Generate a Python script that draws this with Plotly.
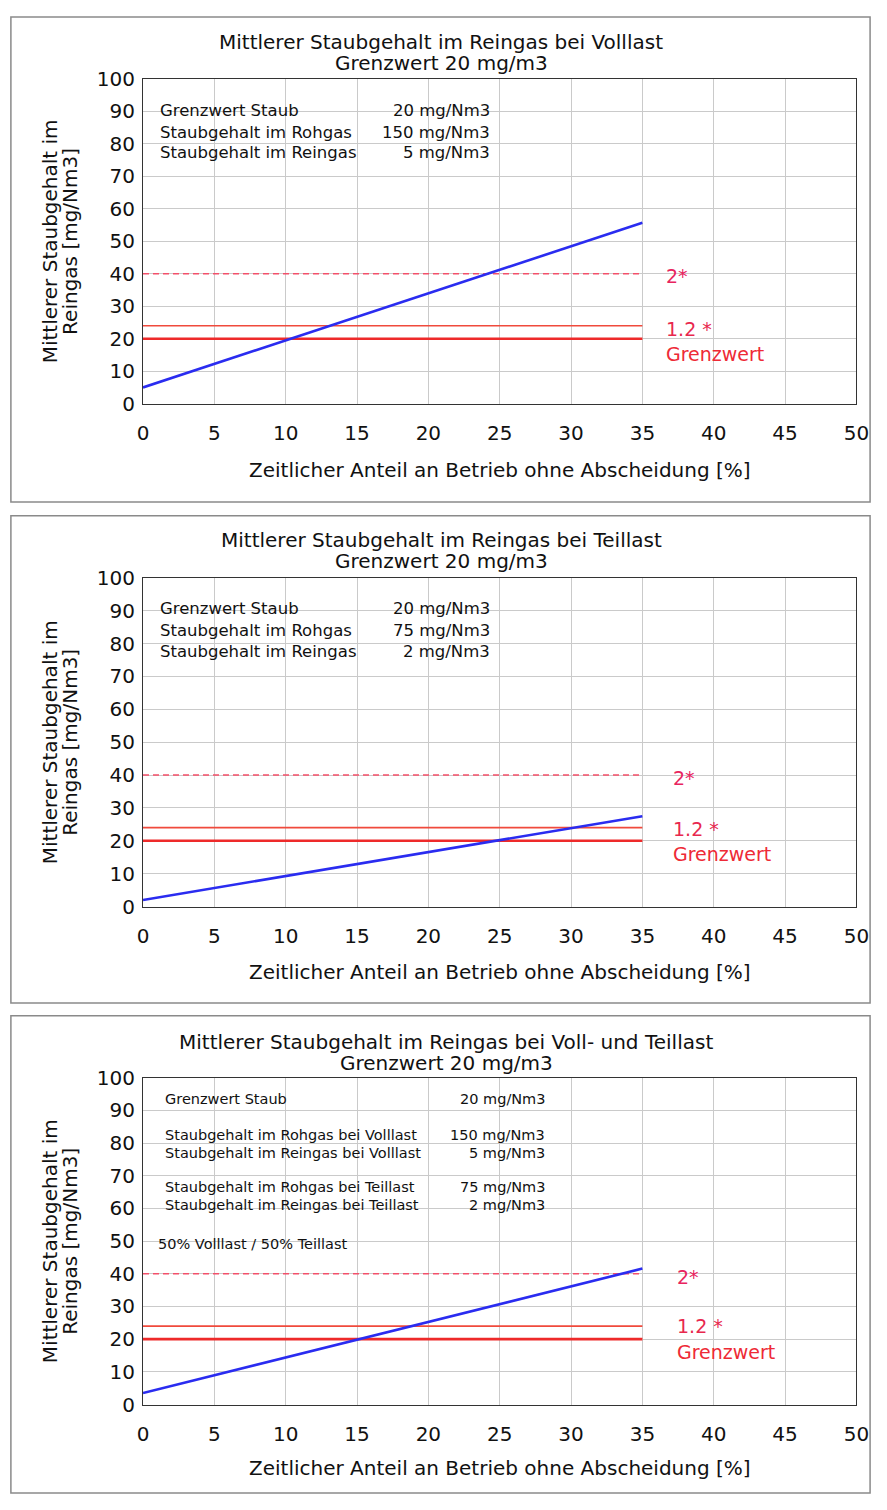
import plotly.graph_objects as go

W, H = 887, 1510
FONT = "DejaVu Sans, Liberation Sans, Arial, sans-serif"

# Share of operating time without dust separation [%]
share = [0, 35]

# Mean clean-gas dust content [mg/Nm3] at 0 % and 35 % bypass time
clean_full = [5, 55.7]      # Volllast
clean_part = [2, 27.5]      # Teillast
clean_mix = [3.5, 41.6]     # 50 % Volllast / 50 % Teillast

limit = 20                  # Grenzwert [mg/Nm3]
limit_factors = [1.2, 2]    # 1.2 * and 2* the limit

x_ticks = [0, 5, 10, 15, 20, 25, 30, 35, 40, 45, 50]
y_ticks = [0, 10, 20, 30, 40, 50, 60, 70, 80, 90, 100]

titles = [
    ("Mittlerer Staubgehalt im Reingas bei Volllast", "Grenzwert 20 mg/m3"),
    ("Mittlerer Staubgehalt im Reingas bei Teillast", "Grenzwert 20 mg/m3"),
    ("Mittlerer Staubgehalt im Reingas bei Voll- und Teillast", "Grenzwert 20 mg/m3"),
]
y_title = ("Mittlerer Staubgehalt im", "Reingas [mg/Nm3]")
x_title = "Zeitlicher Anteil an Betrieb ohne Abscheidung [%]"

info_blocks = [
    [("Grenzwert Staub", "20 mg/Nm3"),
     ("Staubgehalt im Rohgas", "150 mg/Nm3"),
     ("Staubgehalt im Reingas", "5 mg/Nm3")],
    [("Grenzwert Staub", "20 mg/Nm3"),
     ("Staubgehalt im Rohgas", "75 mg/Nm3"),
     ("Staubgehalt im Reingas", "2 mg/Nm3")],
    [("Grenzwert Staub", "20 mg/Nm3"),
     ("Staubgehalt im Rohgas bei Volllast", "150 mg/Nm3"),
     ("Staubgehalt im Reingas bei Volllast", "5 mg/Nm3"),
     ("Staubgehalt im Rohgas bei Teillast", "75 mg/Nm3"),
     ("Staubgehalt im Reingas bei Teillast", "2 mg/Nm3")],
]
mix_note = "50% Volllast / 50% Teillast"

series = [clean_full, clean_part, clean_mix]


def py(pix):
    """pixel row -> paper y"""
    return 1 - pix / H


def px(pix):
    return pix / W


# panel geometry in pixels
panels = [
    dict(box=(5, 498), top=68, bottom=398, title=(30, 52), xt=465,
         info_x=(155, 497), info_y=[100, 122, 143], info_size=16.5,
         white=(87, 157, 510), lab_x=36.5, lab_y=[39.4, 23.0, 15.2], title_x=445),
    dict(box=(512, 1007), top=575, bottom=909, title=(537, 558), xt=975,
         info_x=(155, 497), info_y=[606, 628, 650], info_size=16.5,
         white=(593, 662, 510), lab_x=37.0, lab_y=[39.2, 23.7, 15.9], title_x=445),
    dict(box=(1020, 1505), top=1083, bottom=1415, title=(1047, 1068), xt=1480,
         info_x=(160, 553), info_y=[1105, 1141, 1159, 1194, 1212], info_size=14.5,
         white=(1090, 1266, 580), lab_x=37.3, lab_y=[39.0, 24.0, 16.0], title_x=450),
]

x_left, x_right = 140, 869

fig = go.Figure()
shapes = []
annotations = []


def note(text, x, y, size, color="#111", xanchor="center", angle=0, xref="paper", yref="paper"):
    annotations.append(dict(text=text, xref=xref, yref=yref, x=x, y=y, textangle=angle,
                            xanchor=xanchor, yanchor="middle", showarrow=False,
                            font=dict(family=FONT, size=size, color=color)))


for i, (p, ys) in enumerate(zip(panels, series)):
    n = "" if i == 0 else str(i + 1)
    xa, ya = "x" + n, "y" + n

    # limit lines
    fig.add_trace(go.Scatter(x=share, y=[limit * limit_factors[1]] * 2, xaxis=xa, yaxis=ya,
                             mode="lines", line=dict(color="#f4506a", width=1.5, dash="6px,4px"),
                             showlegend=False, hoverinfo="skip"))
    fig.add_trace(go.Scatter(x=share, y=[limit * limit_factors[0]] * 2, xaxis=xa, yaxis=ya,
                             mode="lines", line=dict(color="#f04a3c", width=1.6),
                             showlegend=False, hoverinfo="skip"))
    fig.add_trace(go.Scatter(x=share, y=[limit] * 2, xaxis=xa, yaxis=ya,
                             mode="lines", line=dict(color="#ee2a2a", width=2.6),
                             showlegend=False, hoverinfo="skip"))
    # dust content
    fig.add_trace(go.Scatter(x=share, y=ys, xaxis=xa, yaxis=ya,
                             mode="lines", line=dict(color="#2a2cf0", width=2.6),
                             showlegend=False))

    axis_common = dict(showgrid=True, gridcolor="#cacaca", gridwidth=1,
                       showline=True, linecolor="#333333", linewidth=1.2, mirror=True,
                       zeroline=False, ticks="", tickfont=dict(family=FONT, size=20, color="#111"))
    fig.update_layout(**{
        ("xaxis" + n): dict(axis_common, domain=[px(x_left), px(x_right)], range=[0, 50],
                            tickvals=x_ticks, anchor=ya, ticklabelstandoff=11),
        ("yaxis" + n): dict(axis_common, domain=[py(p["bottom"]), py(p["top"])], range=[0, 100],
                            tickvals=y_ticks, anchor=xa, ticklabelstandoff=3),
    })

    # outer panel frame
    shapes.append(dict(type="rect", xref="paper", yref="paper",
                       x0=px(5), x1=px(883), y0=py(p["box"][1]), y1=py(p["box"][0]),
                       line=dict(color="#8a8a8a", width=1.5), fillcolor="rgba(0,0,0,0)",
                       layer="below"))
    # white backing behind the info text block
    wt, wb, wr = p["white"]
    shapes.append(dict(type="rect", xref="paper", yref="paper",
                       x0=px(x_left + 1), x1=px(wr), y0=py(wb), y1=py(wt),
                       line=dict(width=0), fillcolor="white", layer="between"))

    # titles
    note(titles[i][0], px(p["title_x"]), py(p["title"][0]), 20)
    note(titles[i][1], px(p["title_x"]), py(p["title"][1]), 20)
    yc = py((p["top"] + p["bottom"]) / 2)
    note(y_title[0], px(45), yc, 20, angle=-90)
    note(y_title[1], px(66), yc, 20, angle=-90)
    note(x_title, px(505), py(p["xt"]), 20)

    # info text
    for (lbl, val), yy in zip(info_blocks[i], p["info_y"]):
        note(lbl, px(p["info_x"][0]), py(yy), p["info_size"], xanchor="left")
        note(val, px(p["info_x"][1]), py(yy), p["info_size"], xanchor="right")
    if i == 2:
        note(mix_note, px(153), py(1252), 14.5, xanchor="left")

    # limit labels
    for txt, yv, col in zip(["2*", "1.2 *", "Grenzwert"], p["lab_y"],
                            ["#e8245e", "#e8284e", "#ee2a36"]):
        note(txt, p["lab_x"], yv, 19, color=col, xanchor="left", xref=xa, yref=ya)

fig.update_layout(
    width=W, height=H,
    margin=dict(l=0, r=0, t=0, b=0),
    paper_bgcolor="white", plot_bgcolor="white",
    shapes=shapes, annotations=annotations,
)

fig.write_html("out.html", post_script="document.body.style.margin='0px';")
